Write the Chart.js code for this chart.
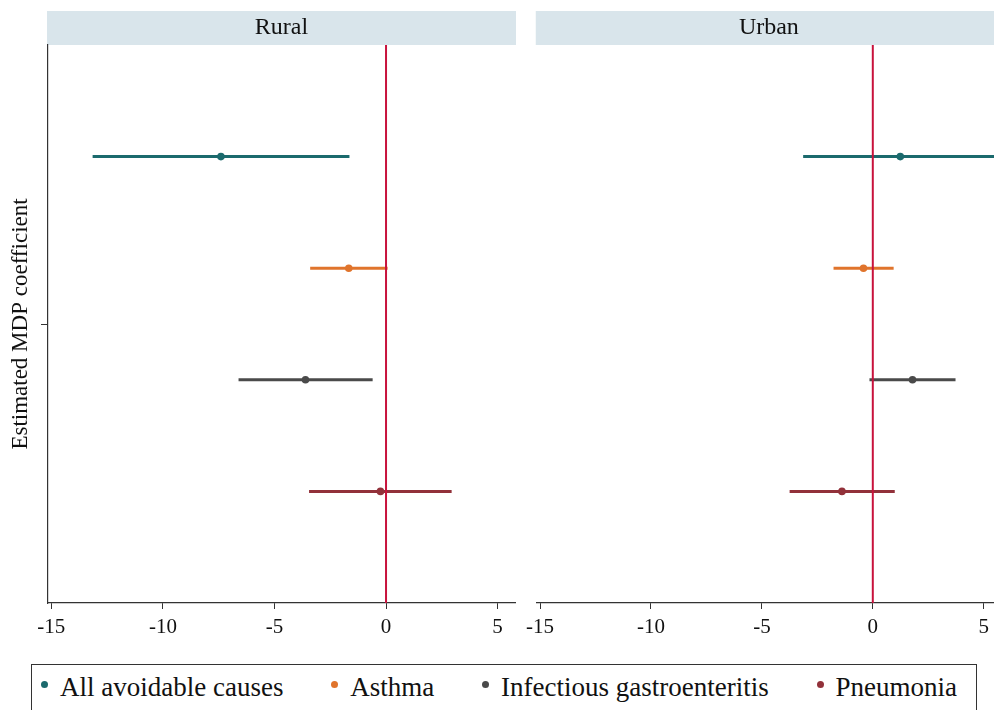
<!DOCTYPE html>
<html>
<head>
<meta charset="utf-8">
<script src="https://cdn.jsdelivr.net/npm/chart.js@4.4.0/dist/chart.umd.min.js"></script>
<style>
  html, body { margin: 0; padding: 0; background: #fff; }
  #wrap { position: relative; width: 994px; height: 710px; overflow: hidden; }
  #rural { position: absolute; left: 0; top: 0; }
  #urban { position: absolute; left: 520px; top: 0; }
  #legend {
    position: absolute; left: 31px; top: 664px; width: 946px; height: 60px;
    box-sizing: border-box; border: 1.5px solid #333;
    display: flex; justify-content: space-between; align-items: center;
    padding: 0 19px 14px 9px;
    font-family: "Liberation Serif"; font-size: 27px; color: #111;
  }
  #legend .item { display: flex; align-items: center; }
  #legend .dot { width: 7px; height: 7px; border-radius: 50%; margin-right: 12px; position: relative; top: -3px; }
</style>
</head>
<body>
<div id="wrap">
  <canvas id="rural" width="520" height="650"></canvas>
  <canvas id="urban" width="486" height="650"></canvas>
  <div id="legend"></div>
</div>
<script>
// outcomes, top to bottom
const categories = ['All avoidable causes', 'Asthma', 'Infectious gastroenteritis', 'Pneumonia'];
const panels = ['Rural', 'Urban'];

// MDP coefficient estimates with 95% confidence bounds
const ruralEst = [-7.40, -1.67, -3.61, -0.25];
const ruralLo  = [-13.15, -3.40, -6.61, -3.45];
const ruralHi  = [-1.64, 0.07, -0.60, 2.94];

const urbanEst = [1.24, -0.42, 1.79, -1.39];
const urbanLo  = [-3.14, -1.77, -0.15, -3.75];
const urbanHi  = [5.62, 0.94, 3.73, 0.99];

const xTicks = [-15, -10, -5, 0, 5];

const colors = ['#1b6a6d', '#e0742c', '#4a4a4a', '#92313a'];
const serif = 'Liberation Serif';

// grey title strip above each panel
const stripPlugin = {
    id: 'strip',
    beforeDraw(chart, args, opts) {
        const {ctx, chartArea} = chart;
        ctx.save();
        ctx.fillStyle = '#d9e5eb';
        ctx.fillRect(chartArea.left - 1, 11, chartArea.right - chartArea.left + 2, 34);
        ctx.fillStyle = '#111';
        ctx.font = '24px "' + serif + '"';
        ctx.textAlign = 'center';
        ctx.textBaseline = 'alphabetic';
        ctx.fillText(opts.text, (chartArea.left + chartArea.right) / 2, 34);
        ctx.restore();
    }
};

function construirPanel(id, title, est, lo, hi, showY) {
    // zero reference line goes first so it is painted on top
    let datasets = [{
        data: [{x: 0, y: 0}, {x: 0, y: 5}],
        borderColor: '#c8123c',
        borderWidth: 2,
        pointRadius: 0
    }];
    for (let i = 0; i < categories.length; i++) {
        datasets.push({
            label: categories[i],
            data: [{x: lo[i], y: i + 1}, {x: est[i], y: i + 1}, {x: hi[i], y: i + 1}],
            borderColor: colors[i],
            backgroundColor: colors[i],
            borderWidth: 3,
            pointRadius: [0, 3.8, 0],
            pointBorderWidth: 0,
            pointHoverRadius: 0
        });
    }
    return new Chart(document.getElementById(id), {
        type: 'line',
        data: {datasets: datasets},
        plugins: [stripPlugin],
        options: {
            responsive: false,
            animation: false,
            events: [],
            layout: {padding: {left: showY ? 0 : 13, right: 5, top: 45, bottom: 0}},
            plugins: {
                legend: {display: false},
                tooltip: {enabled: false},
                strip: {text: title}
            },
            scales: {
                x: {
                    type: 'linear',
                    min: -15.15,
                    max: 5.78,
                    afterBuildTicks: function (s) { s.ticks = xTicks.map(v => ({value: v})); },
                    afterFit: function (s) { s.height = 47; },
                    grid: {drawOnChartArea: false, tickLength: 6, color: '#333'},
                    border: {color: '#333', width: 1.2},
                    ticks: {
                        font: {family: serif, size: 21},
                        color: '#111',
                        padding: 6,
                        maxRotation: 0,
                        autoSkip: false
                    }
                },
                y: {
                    type: 'linear',
                    display: showY,
                    reverse: true,
                    min: 0,
                    max: 5,
                    afterBuildTicks: function (s) { s.ticks = [{value: 2.5}]; },
                    afterFit: function (s) { s.width = showY ? 48 : 0; },
                    grid: {drawOnChartArea: false, tickLength: 7, color: '#333'},
                    border: {color: '#333', width: 1.2},
                    ticks: {display: false},
                    title: {
                        display: true,
                        text: 'Estimated MDP coefficient',
                        font: {family: serif, size: 23},
                        color: '#111',
                        padding: {top: 7, bottom: 0}
                    }
                }
            }
        }
    });
}

construirPanel('rural', panels[0], ruralEst, ruralLo, ruralHi, true);
construirPanel('urban', panels[1], urbanEst, urbanLo, urbanHi, false);

// legend shared by both panels
let res = '';
for (let i = 0; i < categories.length; i++) {
    res += `<div class="item"><span class="dot" style="background:${colors[i]}"></span><span>${categories[i]}</span></div>`;
}
document.getElementById('legend').innerHTML = res;
</script>
</body>
</html>
